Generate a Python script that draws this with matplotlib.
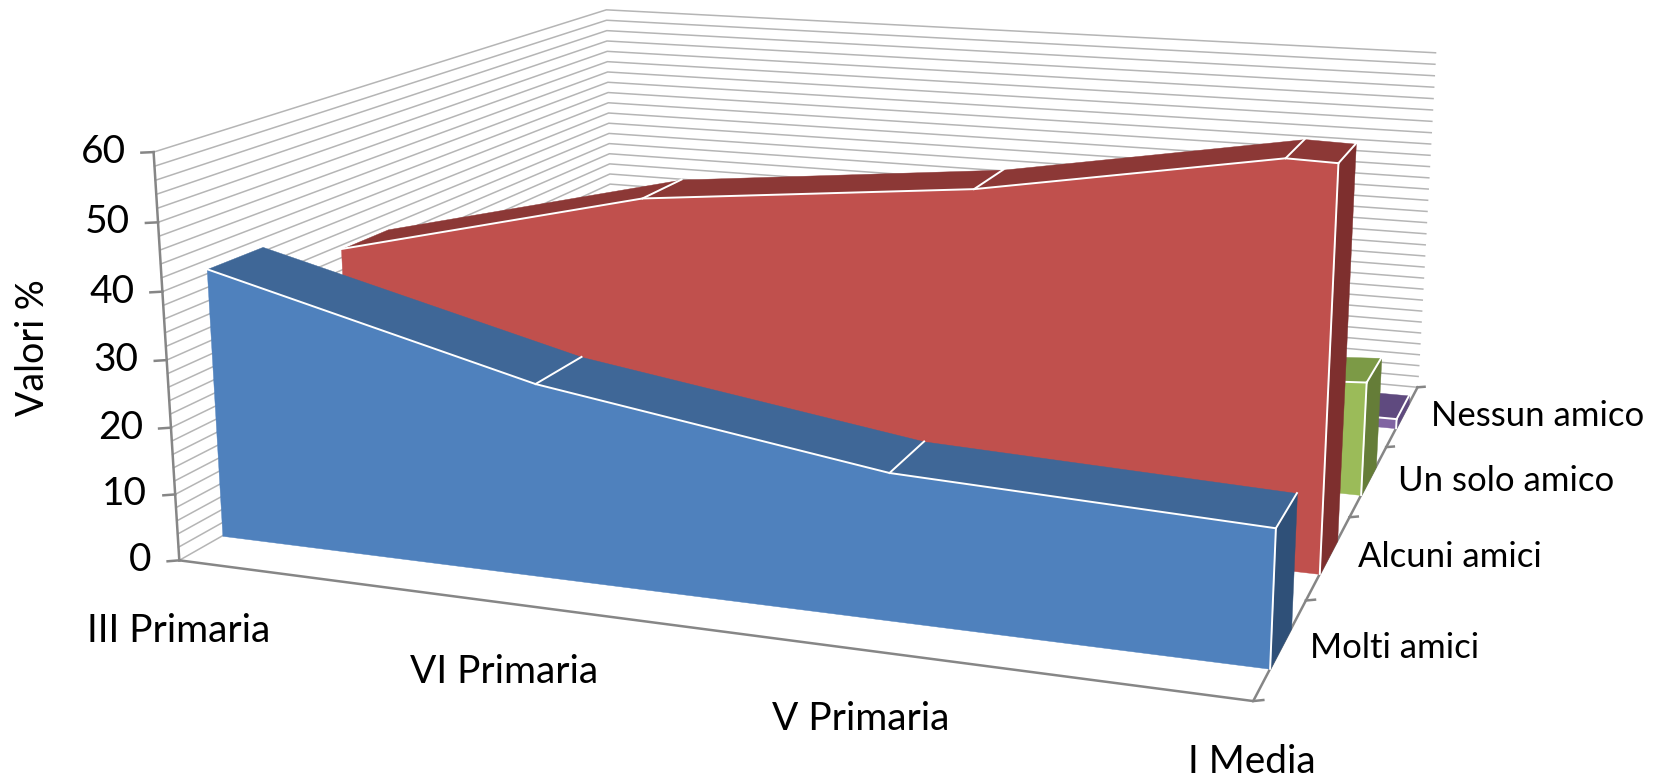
import numpy as np
import matplotlib
matplotlib.use("Agg")
import matplotlib.pyplot as plt
from mpl_toolkits.mplot3d import proj3d
from mpl_toolkits.mplot3d.art3d import Poly3DCollection

plt.rcParams["font.family"] = ["Lato", "DejaVu Sans"]

W, H = 1657, 782

categories = ["III Primaria", "VI Primaria", "V Primaria", "I Media"]
series_names = ["Molti amici", "Alcuni amici", "Un solo amico", "Nessun amico"]
value_ticks = [0, 10, 20, 30, 40, 50, 60]
cat_pos = [0, 1, 2, 3]
molti = [40.7, 28.4, 21.0, 19.2]
# the red area has one more bend just before the last category
red_pos = [0, 1, 2, 2.86, 3]
alcuni = [35.4, 47.3, 52.4, 59.9, 59.7]
un_solo = [10, 12, 15, 18.2]
nessun = [1, 1, 1.5, 1.6]

# camera, fitted against the frame corners of the reference
ELEV, AZIM, ROLL = 13.838, -70.888, -0.1086
ZOOM = np.exp(1.0327)
ASPECT = (np.exp(0.9586), np.exp(0.9244), 1)
CX, CY, SCALE = 863.0, 284.1, 2661.2
BAND_FRONT, BAND_BACK = 0.30, 0.70

fig = plt.figure(figsize=(W / 100, H / 100), dpi=100)
ax = fig.add_axes([0.2, 0.2, 0.5, 0.5], projection="3d", computed_zorder=False)
SIDE = SCALE * ax.viewLim.width
left = CX + ax.viewLim.x0 * SCALE
bottom = H - CY + ax.viewLim.y0 * SCALE
ax.set_position([left / W, bottom / H, SIDE / W, SIDE / H])
ax.view_init(ELEV, AZIM, ROLL)
ax.set_box_aspect(ASPECT, zoom=ZOOM)
ax.set_xlim(0, 3)
ax.set_ylim(0, 4)
ax.set_zlim(0, 60)
ax.set_axis_off()

# one screen pixel straight to the right, in floor units
PX = np.array([1 / 459, 0.92 / 459])

GRID = "#B5B5B5"
AXIS = "#868686"
for z in range(0, 61, 2):
    ax.plot([0, 0, 3], [0, 4, 4], [z, z, z], color=GRID, lw=1.1, zorder=1, clip_on=False)
ax.plot([0, 0], [0, 0], [0, 60], color=AXIS, lw=1.8, zorder=2, clip_on=False)
ax.plot([0, 3, 3], [0, 0, 4], [0, 0, 0], color=AXIS, lw=1.8, zorder=2, clip_on=False)

for z in value_ticks:
    t = -12 * PX
    ax.plot([0, t[0]], [0, t[1]], [z, z], color=AXIS, lw=1.8, zorder=2, clip_on=False)
for d in range(5):
    t = 10 * PX
    ax.plot([3, 3 + t[0]], [d, d + t[1]], [0, 0], color=AXIS, lw=1.8, zorder=2, clip_on=False)


def band(xs, vals, d, front, top, side, zo):
    d0, d1 = d + BAND_FRONT, d + BAND_BACK
    poly = [(xs[0], d0, 0)] + [(x, d0, v) for x, v in zip(xs, vals)] + [(xs[-1], d0, 0)]
    for i in range(len(xs) - 1):
        q = [(xs[i], d0, vals[i]), (xs[i + 1], d0, vals[i + 1]),
             (xs[i + 1], d1, vals[i + 1]), (xs[i], d1, vals[i])]
        ax.add_collection3d(Poly3DCollection([q], facecolor=top, edgecolor=top, linewidth=.3,
                                             zorder=zo, clip_on=False))
    q = [(xs[-1], d0, 0), (xs[-1], d0, vals[-1]), (xs[-1], d1, vals[-1]), (xs[-1], d1, 0)]
    ax.add_collection3d(Poly3DCollection([q], facecolor=side, edgecolor=side, linewidth=.3,
                                         zorder=zo, clip_on=False))
    ax.add_collection3d(Poly3DCollection([poly], facecolor=front, edgecolor=front, linewidth=.3,
                                         zorder=zo + .1, clip_on=False))
    # white seams along the front edge and across the top
    ax.plot(xs, [d0] * len(xs), vals, color="white", lw=1.4, zorder=zo + .2, clip_on=False)
    ax.plot([xs[-1], xs[-1]], [d0, d0], [0, vals[-1]], color="white", lw=1.4, zorder=zo + .2, clip_on=False)
    for x, v in zip(xs[1:], vals[1:]):
        ax.plot([x, x], [d0, d1], [v, v], color="white", lw=1.4, zorder=zo + .2, clip_on=False)


band(cat_pos, nessun, 3, "#8064A2", "#5F4A7F", "#5F4A7F", 10)
band(cat_pos, un_solo, 2, "#9BBB59", "#7C9A46", "#657D38", 20)
band(red_pos, alcuni, 1, "#C0504D", "#8C3836", "#7E2F2E", 30)
band(cat_pos, molti, 0, "#4F81BD", "#3F6797", "#2F5078", 40)

ax.set_xlim(0, 3)
ax.set_ylim(0, 4)
ax.set_zlim(0, 60)


def label(x, d, z, text, dx, dy, ha, size):
    # text sits at a pixel offset from its point on the frame
    px, py, _ = proj3d.proj_transform(x, d, z, ax.get_proj())
    ax.annotate(text, (px, py), xytext=(dx, dy), textcoords="offset pixels", fontsize=size,
                ha=ha, va="center", color="black", annotation_clip=False)


for z in value_ticks:
    label(0, 0, z, str(z), -28, 0, "right", 28)
for x, name, dy in zip(cat_pos, categories, [-71, -69, -69, -61]):
    label(x, 0, 0, name, -1, dy, "center", 28)
for d, name in enumerate(series_names):
    label(3, d + .5, 0, name, 29, 0, "left", 25)

fig.text(33 / W, 1 - 348 / H, "Valori %", fontsize=27, rotation=90, ha="center", va="center", color="black")

fig.savefig("out.png", dpi=100)
